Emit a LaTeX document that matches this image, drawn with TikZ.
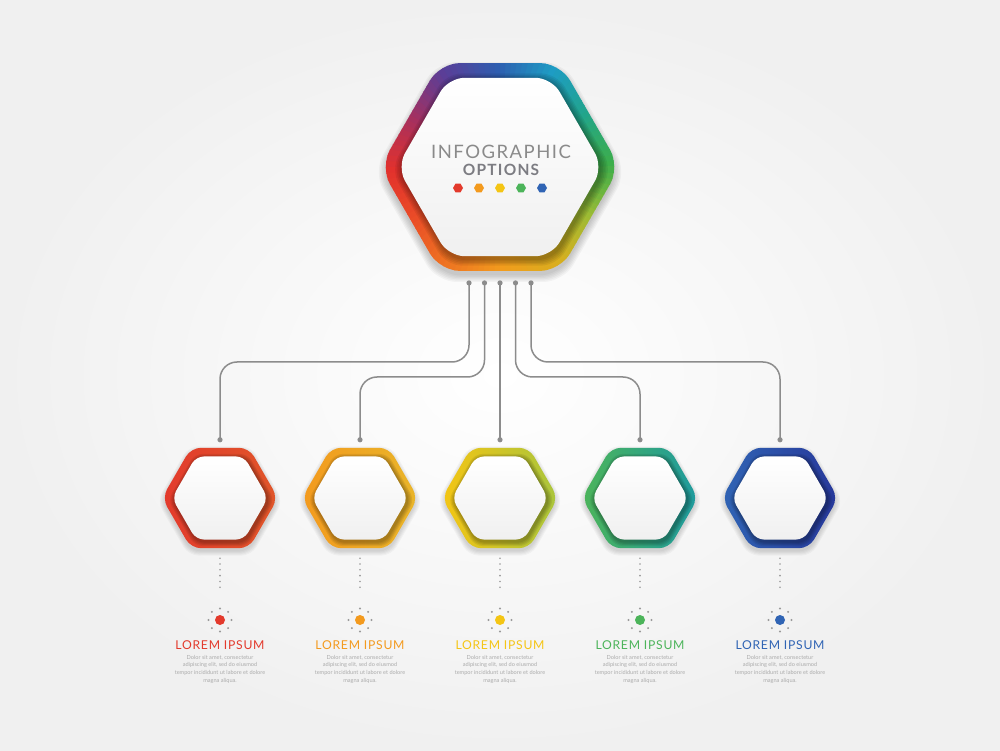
\documentclass[tikz,border=0pt]{standalone}
\usepackage{fontspec}
\setmainfont{Lato}
\usepackage{xcolor}
\usetikzlibrary{calc,positioning,shapes.geometric}
\definecolor{r0}{HTML}{3DAE4B}
\definecolor{r1}{HTML}{22A58A}
\definecolor{r2}{HTML}{1E9CC4}
\definecolor{r3}{HTML}{2E5DB0}
\definecolor{r4}{HTML}{5B3E97}
\definecolor{r5}{HTML}{A6305E}
\definecolor{r6}{HTML}{E2312D}
\definecolor{r7}{HTML}{EA4D27}
\definecolor{r8}{HTML}{EE7422}
\definecolor{r9}{HTML}{F29C1D}
\definecolor{r10}{HTML}{D9AE1E}
\definecolor{r11}{HTML}{9CBB34}
\definecolor{optred}{HTML}{E33A2C}
\definecolor{optorange}{HTML}{F39A1E}
\definecolor{optyellow}{HTML}{F4C514}
\definecolor{optgreen}{HTML}{4CB45A}
\definecolor{optblue}{HTML}{3064B4}
\definecolor{optred2}{HTML}{E0562A}
\definecolor{optorange2}{HTML}{E9B52A}
\definecolor{optyellow2}{HTML}{A9C53C}
\definecolor{optgreen2}{HTML}{1E9A9E}
\definecolor{optblue2}{HTML}{27389A}
\definecolor{linegray}{HTML}{8C8C8C}
\definecolor{dotgray}{HTML}{9A9A9A}
\definecolor{titlegray}{HTML}{8A8A8A}
\definecolor{boldgray}{HTML}{7C7C82}
\definecolor{bodygray}{HTML}{ABABAB}
\definecolor{bggray}{HTML}{F0F0F0}
\definecolor{innergray}{HTML}{F0F0F0}

\begin{document}
\begin{tikzpicture}[
    x=1pt, y=1pt,
    nosep/.style={inner sep=0, outer sep=0},
    hexnode/.style={regular polygon, regular polygon sides=6, nosep},
    hexp/.style 2 args={insert path={([shift={(0:#2)}]#1) -- ([shift={(60:#2)}]#1) -- ([shift={(120:#2)}]#1) -- ([shift={(180:#2)}]#1) -- ([shift={(240:#2)}]#1) -- ([shift={(300:#2)}]#1) -- cycle}},
    link/.style={draw=linegray, line width=1.5pt, rounded corners=17pt},
    dotline/.style={draw=dotgray, line width=1.8pt, line cap=round, dash pattern=on 0pt off 5.8pt},
    optlabel/.style={nosep, font=\fontsize{12.2}{13}\selectfont\addfontfeatures{LetterSpace=6}},
    bodytext/.style={nosep, align=center, text=bodygray, font=\fontsize{5.6}{7.9}\selectfont}]

\shade[inner color=white, outer color=bggray] (0,0) rectangle (1000,750);
\useasboundingbox (0,0) rectangle (1000,750);

\node[hexnode, minimum size=240pt] (main) at (500,583) {};

\foreach \k in {1,...,6}
    \fill[black, opacity=0.035, rounded corners=20pt, transform canvas={shift={(0pt,-5pt)}}, hexp={main.center}{118+1.5*\k}];

\begin{scope}
\path[clip, rounded corners=20pt, hexp={main.center}{120}];
\foreach \a/\ca/\cb in {0/r0/r1, 30/r1/r2, 60/r2/r3, 90/r3/r4, 120/r4/r5, 150/r5/r6,
                        180/r6/r7, 210/r7/r8, 240/r8/r9, 270/r9/r10, 300/r10/r11, 330/r11/r0}{
    \foreach \k in {0,...,9}{
        \pgfmathtruncatemacro\p{100-10*\k}
        \fill[\ca!\p!\cb, shift={(main.center)}] (0,0) -- (\a+3*\k:140) -- (\a+3*\k+3.4:140) -- cycle;
    }
}
\foreach \k in {1,...,5}
    \fill[black, opacity=0.065, rounded corners=16pt, transform canvas={shift={(1.5pt,-2.5pt)}}, hexp={main.center}{103+1.6*\k}];
\end{scope}
\shade[top color=white, bottom color=innergray, rounded corners=16pt, hexp={main.center}{103}];

\node[nosep, text=titlegray, font=\fontsize{18.5}{19}\selectfont\addfontfeatures{LetterSpace=8}] (title) at ([xshift=1pt, yshift=15pt]main.center) {INFOGRAPHIC};
\node[nosep, text=boldgray, font=\fontsize{15.5}{17}\bfseries\selectfont\addfontfeatures{LetterSpace=8}] (subtitle) at ([xshift=1pt, yshift=-3pt]main.center) {OPTIONS};
\foreach \i/\c in {1/optred, 2/optorange, 3/optyellow, 4/optgreen, 5/optblue}
    \node[hexnode, fill=\c, minimum size=10pt] (d\i) at ([xshift=-63pt+21pt*\i, yshift=-21pt]main.center) {};

\foreach \i/\x/\ca/\cb in {1/220/optred/optred2, 2/360/optorange/optorange2, 3/500/optyellow/optyellow2,
                          4/640/optgreen/optgreen2, 5/780/optblue/optblue2}{
    \node[hexnode, minimum size=116pt] (o\i) at (\x,252) {};
    \foreach \k in {1,...,5}
        \fill[black, opacity=0.03, rounded corners=10pt, transform canvas={shift={(0pt,-3pt)}}, hexp={o\i.center}{57+1.2*\k}];
    \shade[left color=\ca, right color=\cb, rounded corners=10pt, hexp={o\i.center}{58}];
    \foreach \k in {1,...,4}
        \fill[black, opacity=0.08, rounded corners=8pt, transform canvas={shift={(1.2pt,-2pt)}}, hexp={o\i.center}{48+1.3*\k}];
    \shade[top color=white, bottom color=innergray, rounded corners=8pt, hexp={o\i.center}{48}];
}

\coordinate (bus1) at (0,388);
\coordinate (bus2) at (0,373);
\foreach \i in {1,...,5}{
    \coordinate (s\i) at ([xshift=-46.5pt+15.5pt*\i, yshift=-12pt]main.south);
    \coordinate (e\i) at ([yshift=8pt]o\i.north);
}
\path[link] (s1) -- (s1 |- bus1) -| (e1);
\path[link] (s2) -- (s2 |- bus2) -| (e2);
\path[link] (s3) -- (e3);
\path[link] (s4) -- (s4 |- bus2) -| (e4);
\path[link] (s5) -- (s5 |- bus1) -| (e5);
\foreach \i in {1,...,5}{
    \fill[linegray] (s\i) circle (2.6);
    \fill[linegray] (e\i) circle (2.6);
}

\foreach \i/\c in {1/optred, 2/optorange, 3/optyellow, 4/optgreen, 5/optblue}{
    \path[dotline] ([yshift=-10pt]o\i.south) -- ++(0,-30);
    \node[circle, nosep, fill=\c, minimum size=10pt] (m\i) at (o\i |- 0,130) {};
    \foreach \a in {0,45,...,315}
        \fill[dotgray] (m\i.center) ++(\a:11.5) circle (1.1);
    \node[optlabel, text=\c, below=16pt of m\i] (t\i) {LOREM IPSUM};
    \node[bodytext, below=5pt of t\i] (p\i) {Dolor sit amet, consectetur\\adipiscing elit, sed do eiusmod\\tempor incididunt ut labore et dolore\\magna aliqua.};
}

\end{tikzpicture}
\end{document}
